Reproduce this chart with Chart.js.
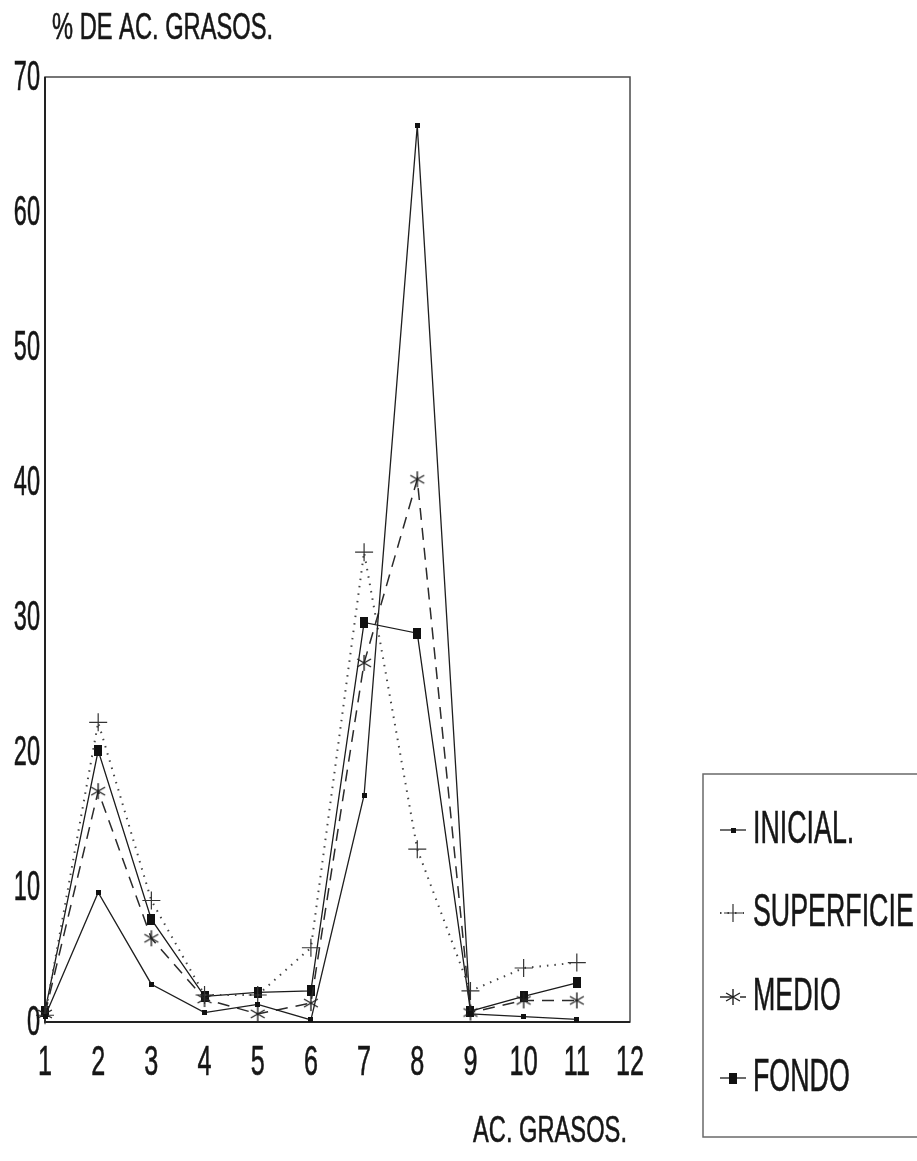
<!DOCTYPE html>
<html>
<head>
<meta charset="utf-8">
<title>% de ác. grasos</title>
<script src="https://cdn.jsdelivr.net/npm/chart.js@4/dist/chart.umd.min.js"></script>
<style>
  html, body { margin: 0; padding: 0; background: #fff; }
  #chartCanvas { display: block; }
</style>
</head>
<body>
<canvas id="chartCanvas" width="917" height="1161"></canvas>
<script>
// fatty acid number on x, percentage on y
const acidos = ["1", "2", "3", "4", "5", "6", "7", "8", "9", "10", "11", "12"];
const yTicks = [0, 10, 20, 30, 40, 50, 60, 70];

const inicial = [0.4, 9.6, 2.8, 0.7, 1.3, 0.15, 16.8, 66.4, 0.6, 0.4, 0.2];
const superficie = [0.5, 22.2, 9.0, 2.0, 2.0, 5.5, 34.8, 12.8, 2.3, 4.0, 4.4];
const medio = [0.6, 17.1, 6.2, 1.7, 0.6, 1.4, 26.6, 40.2, 0.7, 1.6, 1.6];
const fondo = [0.8, 20.1, 7.6, 1.9, 2.2, 2.3, 29.6, 28.8, 0.8, 1.9, 2.9];

const FONT = "'Liberation Sans', Arial, Helvetica, sans-serif";
const INK = "#161616";

document.addEventListener("DOMContentLoaded", () => {
  const canvas = document.getElementById("chartCanvas");
  const ctx = canvas.getContext("2d");

  function makeBox(w, h) {
    const c = document.createElement("canvas");
    c.width = w;
    c.height = h;
    const g = c.getContext("2d");
    g.fillStyle = "#111";
    g.fillRect(0, 0, w, h);
    return c;
  }

  // six-ray asterisk for MEDIO
  function makeAsterisk(size) {
    const c = document.createElement("canvas");
    c.width = size;
    c.height = size;
    const g = c.getContext("2d");
    const m = size / 2;
    const r = size / 2 - 1;
    g.strokeStyle = "#222";
    g.lineWidth = 1.4;
    g.beginPath();
    g.moveTo(m, m - r);
    g.lineTo(m, m + r);
    const a = Math.PI / 3;
    g.moveTo(m - r * Math.sin(a), m - r * Math.cos(a));
    g.lineTo(m + r * Math.sin(a), m + r * Math.cos(a));
    g.moveTo(m + r * Math.sin(a), m - r * Math.cos(a));
    g.lineTo(m - r * Math.sin(a), m + r * Math.cos(a));
    g.stroke();
    return c;
  }

  const inicialMark = makeBox(5, 5);
  const fondoMark = makeBox(8, 11);
  const medioMark = makeAsterisk(18);

  // narrow lettering: regular face squeezed horizontally, stroked a bit for weight
  function narrowText(g, text, x, y, size, align, sx) {
    g.save();
    g.font = size + "px " + FONT;
    g.fillStyle = INK;
    g.strokeStyle = INK;
    g.lineWidth = 0.6;
    g.textBaseline = "middle";
    g.textAlign = align;
    g.translate(x, y);
    g.scale(sx, 1);
    g.fillText(text, 0, 0);
    g.strokeText(text, 0, 0);
    g.restore();
  }

  const framePlugin = {
    id: "frame",
    beforeDatasetsDraw(chart) {
      const { left, right, top, bottom } = chart.chartArea;
      const g = chart.ctx;
      g.save();
      g.strokeStyle = "#4a4a4a";
      g.lineWidth = 1.5;
      g.strokeRect(left, top, right - left, bottom - top);
      g.strokeStyle = "#222";
      g.lineWidth = 2;
      g.beginPath();
      g.moveTo(left, top);
      g.lineTo(left, bottom);
      g.lineTo(right, bottom);
      g.stroke();
      g.restore();
    },
    afterDraw(chart) {
      const g = chart.ctx;
      const xs = chart.scales.x;
      const ys = chart.scales.y;

      yTicks.forEach((v) => {
        narrowText(g, String(v), 40, ys.getPixelForValue(v) + 1, 42, "right", 0.56);
      });
      acidos.forEach((lab, i) => {
        narrowText(g, lab, xs.getPixelForValue(i), 1063, 42, "center", 0.6);
      });

      narrowText(g, "% DE AC. GRASOS.", 52, 29, 37, "left", 0.64);
      narrowText(g, "AC. GRASOS.", 473, 1132, 37, "left", 0.64);

      // legend box
      g.save();
      g.strokeStyle = "#6a6a6a";
      g.lineWidth = 1.5;
      g.strokeRect(703, 774, 230, 363);
      g.restore();

      const rows = [830, 913, 997, 1078];
      chart.data.datasets.forEach((ds, i) => {
        const y = rows[i];
        g.save();
        g.strokeStyle = ds.borderColor;
        g.lineWidth = ds.borderWidth;
        g.setLineDash(ds.borderDash || []);
        g.beginPath();
        g.moveTo(720, y);
        g.lineTo(746, y);
        g.stroke();
        g.restore();
        g.save();
        g.strokeStyle = ds.pointBorderColor || ds.borderColor;
        g.lineWidth = ds.pointBorderWidth || 1;
        Chart.helpers.drawPoint(g, {
          pointStyle: ds.pointStyle,
          radius: ds.pointRadius,
          borderWidth: ds.pointBorderWidth || 1,
          rotation: 0,
        }, 733, y);
        g.restore();
        narrowText(g, ds.label, 753, y, 47, "left", 0.57);
      });
    },
  };

  new Chart(ctx, {
    type: "line",
    data: {
      labels: acidos,
      datasets: [
        {
          label: "INICIAL.",
          data: inicial,
          borderColor: "#1e1e1e",
          borderWidth: 1.3,
          pointStyle: inicialMark,
          pointRadius: 3,
          tension: 0,
          clip: false,
        },
        {
          label: "SUPERFICIE",
          data: superficie,
          borderColor: "#444",
          borderWidth: 2,
          borderDash: [1.5, 6],
          pointStyle: "cross",
          pointRadius: 9,
          pointBorderColor: "#333",
          pointBorderWidth: 1.2,
          tension: 0,
          clip: false,
        },
        {
          label: "MEDIO",
          data: medio,
          borderColor: "#2a2a2a",
          borderWidth: 1.5,
          borderDash: [12, 8],
          pointStyle: medioMark,
          pointRadius: 9,
          tension: 0,
          clip: false,
        },
        {
          label: "FONDO",
          data: fondo,
          borderColor: "#1a1a1a",
          borderWidth: 1.3,
          pointStyle: fondoMark,
          pointRadius: 6,
          tension: 0,
          clip: false,
        },
      ],
    },
    options: {
      responsive: false,
      animation: false,
      devicePixelRatio: 1,
      layout: {
        padding: { left: 45, right: 287, top: 77, bottom: 139 },
      },
      scales: {
        x: { display: false, offset: false },
        y: { display: false, min: 0, max: 70 },
      },
      plugins: {
        legend: { display: false },
        tooltip: { enabled: false },
      },
    },
    plugins: [framePlugin],
  });
});
</script>
</body>
</html>
